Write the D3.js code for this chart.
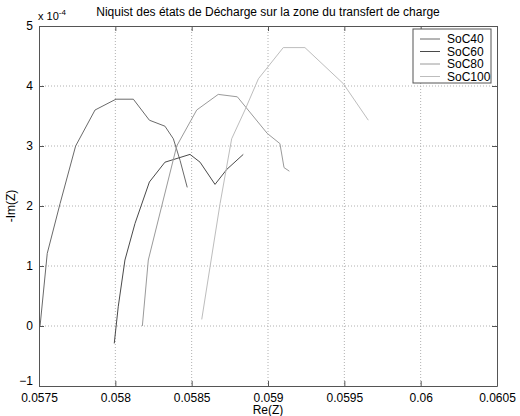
<!DOCTYPE html>
<meta charset="utf-8"/>
<style>
  body { margin: 0; background: #fff; }
  text { font-family: "Liberation Sans", Arial, sans-serif; }
</style>
<svg width="520" height="416"></svg>
<script src="https://cdnjs.cloudflare.com/ajax/libs/d3/7.8.5/d3.min.js"></script>
<script>

// data, y values in units of 1e-4
var seriesNames = ['SoC40', 'SoC60', 'SoC80', 'SoC100']
var seriesColours = ['#6a6a6a', '#4a4a4a', '#9a9a9a', '#bdbdbd']

var soc40Re = [0.057507, 0.057554, 0.057638, 0.05774, 0.057867, 0.058004, 0.058118, 0.058223, 0.058325, 0.05838, 0.058424, 0.058471]
var soc40Im = [0, 1.21, 2.04, 3.0, 3.6, 3.78, 3.78, 3.43, 3.33, 3.12, 2.76, 2.31]

var soc60Re = [0.057993, 0.058019, 0.058063, 0.058129, 0.058223, 0.058325, 0.058489, 0.058555, 0.058653, 0.05873, 0.058838]
var soc60Im = [-0.29, 0.32, 1.1, 1.71, 2.4, 2.73, 2.86, 2.73, 2.36, 2.61, 2.86]

var soc80Re = [0.058177, 0.058216, 0.058304, 0.058402, 0.058533, 0.058674, 0.058799, 0.058995, 0.059078, 0.059105, 0.05914]
var soc80Im = [0, 1.1, 2.0, 3.0, 3.6, 3.86, 3.82, 3.21, 3.04, 2.64, 2.58]

var soc100Re = [0.058566, 0.05862, 0.058686, 0.058762, 0.058849, 0.058937, 0.0591, 0.059242, 0.059493, 0.059657]
var soc100Im = [0.11, 0.98, 2.04, 3.12, 3.6, 4.12, 4.64, 4.64, 4.04, 3.43]

var xTicks = [0.0575, 0.058, 0.0585, 0.059, 0.0595, 0.06, 0.0605]
var yTicks = [-1, 0, 1, 2, 3, 4, 5]

var allRe = [soc40Re, soc60Re, soc80Re, soc100Re]
var allIm = [soc40Im, soc60Im, soc80Im, soc100Im]

var svg = d3.select('svg')

var plotLeft = 39, plotRight = 497, plotTop = 26, plotBottom = 386

var x = d3.scaleLinear().domain([0.0575, 0.0605]).range([plotLeft, plotRight])
var y = d3.scaleLinear().domain([-1, 5]).range([plotBottom, plotTop])

var axisCol = '#555'

// grid
svg.append('g')
    .selectAll('line')
    .data(xTicks.slice(1, -1))
    .enter().append('line')
    .attr('x1', d => x(d)).attr('x2', d => x(d))
    .attr('y1', plotTop).attr('y2', plotBottom)
    .attr('stroke', '#b0b0b0')
    .attr('stroke-dasharray', '1,2')

svg.append('g')
    .selectAll('line')
    .data(yTicks.slice(1, -1))
    .enter().append('line')
    .attr('x1', plotLeft).attr('x2', plotRight)
    .attr('y1', d => y(d)).attr('y2', d => y(d))
    .attr('stroke', '#b0b0b0')
    .attr('stroke-dasharray', '1,2')

// curves
var line = d3.line()
    .x(d => x(d[0]))
    .y(d => y(d[1]))

for (var i = 0; i < seriesNames.length; i++) {
    var pts = allRe[i].map((r, k) => [r, allIm[i][k]])
    svg.append('path')
        .datum(pts)
        .attr('d', line)
        .attr('fill', 'none')
        .attr('stroke', seriesColours[i])
        .attr('stroke-width', 1)
}

// axes, matlab style ticks pointing inwards
var fmtX = d => String(+d.toFixed(4))

svg.append('g')
    .attr('transform', 'translate(0,' + plotBottom + ')')
    .call(d3.axisBottom(x).tickValues(xTicks).tickFormat(fmtX).tickSizeInner(-5).tickSizeOuter(0).tickPadding(7))
svg.append('g')
    .attr('transform', 'translate(0,' + plotTop + ')')
    .call(d3.axisTop(x).tickValues(xTicks).tickFormat('').tickSizeInner(-5).tickSizeOuter(0))
var yAxis = svg.append('g')
    .attr('transform', 'translate(' + plotLeft + ',0)')
    .call(d3.axisLeft(y).tickValues(yTicks).tickFormat(d3.format('d')).tickSizeInner(-5).tickSizeOuter(0).tickPadding(6))
svg.append('g')
    .attr('transform', 'translate(' + plotRight + ',0)')
    .call(d3.axisRight(y).tickValues(yTicks).tickFormat('').tickSizeInner(-5).tickSizeOuter(0))

// the lowest y label sits a bit higher, like matlab does
yAxis.selectAll('.tick text').filter(d => d === -1).attr('dy', '-0.1em')

svg.selectAll('.domain').attr('stroke', axisCol)
svg.selectAll('.tick line').attr('stroke', axisCol)
svg.selectAll('.tick text')
    .attr('fill', '#000')
    .style('font-size', '12px')
    .style('font-family', '"Liberation Sans", Arial, sans-serif')

// exponent label
var expo = svg.append('text')
    .attr('x', 38).attr('y', 20)
    .style('font-size', '11px')
expo.append('tspan').text('x 10')
expo.append('tspan').attr('dy', -5).style('font-size', '8px').text('-4')

// title and labels
svg.append('text')
    .attr('x', (plotLeft + plotRight) / 2).attr('y', 16)
    .attr('text-anchor', 'middle')
    .style('font-size', '12px')
    .text('Niquist des états de Décharge sur la zone du transfert de charge')

svg.append('text')
    .attr('x', (plotLeft + plotRight) / 2).attr('y', 414)
    .attr('text-anchor', 'middle')
    .style('font-size', '12px')
    .text('Re(Z)')

svg.append('text')
    .attr('transform', 'translate(15,' + (plotTop + plotBottom) / 2 + ') rotate(-90)')
    .attr('text-anchor', 'middle')
    .style('font-size', '12px')
    .text('-Im(Z)')

// legend
var lg = svg.append('g').attr('transform', 'translate(413,29)')
lg.append('rect')
    .attr('width', 78).attr('height', 54)
    .attr('fill', '#fff').attr('stroke', axisCol)
for (var i = 0; i < seriesNames.length; i++) {
    var ly = 10 + i * 12.5
    lg.append('line')
        .attr('x1', 7).attr('x2', 27)
        .attr('y1', ly).attr('y2', ly)
        .attr('stroke', seriesColours[i])
    lg.append('text')
        .attr('x', 34).attr('y', ly + 4)
        .style('font-size', '12px')
        .text(seriesNames[i])
}

</script>
